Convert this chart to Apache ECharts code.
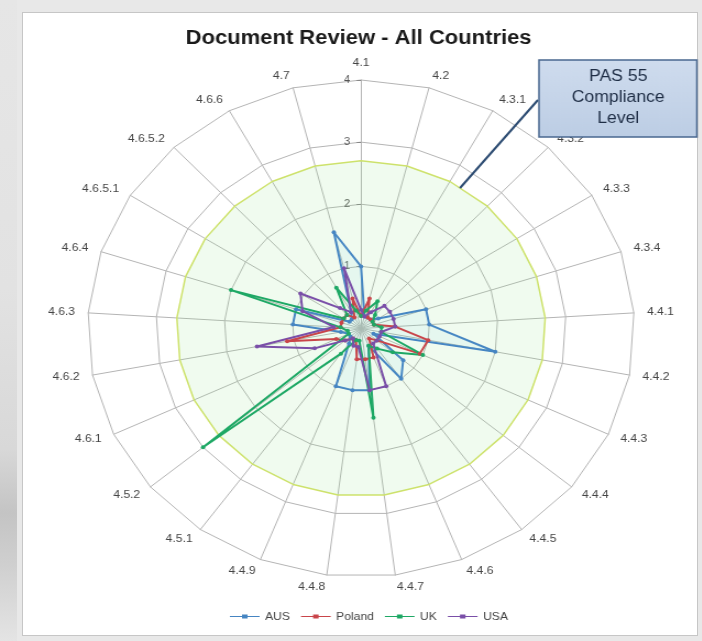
<!DOCTYPE html>
<html><head><meta charset="utf-8">
<script src="https://cdn.jsdelivr.net/npm/echarts@6/dist/echarts.min.js"></script>
<style>
html,body{margin:0;padding:0;width:702px;height:641px;overflow:hidden;background:#e8e8e8;}
#strip{position:absolute;left:0;top:0;width:17px;height:641px;background:linear-gradient(to bottom,#e6e6e6 0%,#e2e2e2 45%,#d8d8d8 70%,#c4c4c4 80%,#cfcfcf 88%,#e4e4e4 100%);}
#panel{position:absolute;left:22px;top:12px;width:674px;height:622px;background:#fff;border:1px solid #c6c6c6;}
#chart{position:absolute;left:0;top:0;width:638px;height:641px;transform:scaleX(1.1);transform-origin:0 0;}
</style></head><body>
<div id="strip"></div><div id="panel"></div><div id="chart"></div>
<script>
const categories = ['4.1','4.2','4.3.1','4.3.2','4.3.3','4.3.4','4.4.1','4.4.2','4.4.3','4.4.4','4.4.5','4.4.6','4.4.7','4.4.8','4.4.9','4.5.1','4.5.2','4.6.1','4.6.2','4.6.3','4.6.4','4.6.5.1','4.6.5.2','4.6.6','4.7'];
const AUS    = [1.0,0.2,0.2,0.2,0.3,1.0,1.0,2.0,0.2,0.8,1.0,0.3,1.0,1.0,1.0,0.3,0.2,0.2,0.3,1.0,1.0,0.2,0.2,0.3,1.6];
const Poland = [0.2,0.5,0.2,0.2,0.2,0.2,0.5,1.0,0.95,0.3,0.2,0.5,0.5,0.5,0.2,0.2,0.3,0.4,1.1,0.3,0.3,0.3,0.3,0.2,0.5];
const UK     = [0.2,0.3,0.5,0.3,0.2,0.2,0.3,0.3,1.0,0.6,0.4,0.3,1.45,0.2,0.2,0.5,3.0,0.2,0.2,0.3,2.0,0.3,0.3,0.75,0.3];
const USA    = [0.3,0.2,0.3,0.5,0.5,0.5,0.5,0.3,0.3,0.3,0.3,1.0,1.0,0.3,0.3,0.2,0.3,0.75,1.55,0.4,0.9,1.05,0.45,0.3,1.0];
const compliance = [2.7,2.7,2.7,2.7,2.7,2.7,2.7,2.7,2.7,2.7,2.7,2.7,2.7,2.7,2.7,2.7,2.7,2.7,2.7,2.7,2.7,2.7,2.7,2.7,2.7];
const seriesNames = ['AUS','Poland','UK','USA'];
const seriesColors = ['#4685c2','#c9454a','#1ea865','#7a4fa8'];
const axisMax = 4;
const calloutLines = ['PAS 55','Compliance','Level'];

// ECharts radar runs counter-clockwise; Excel runs clockwise -> reorder indices
const order = [0];
for (let i = categories.length - 1; i >= 1; i--) order.push(i);
const reorder = arr => order.map(i => arr[i]);

const chart = echarts.init(document.getElementById('chart'), null, {renderer: 'canvas'});
const FONT = 'Liberation Sans';
const raw = [AUS, Poland, UK, USA];

chart.setOption({
  animation: false,
  title: {
    text: 'Document Review - All Countries',
    left: 321, top: 23, textAlign: 'center',
    textStyle: {fontFamily: FONT, fontWeight: 'bold', fontSize: 20, color: '#1a1a1a'}
  },
  legend: {
    data: seriesNames,
    left: 204, top: 606,
    itemWidth: 27, itemHeight: 6, itemGap: 10,
    icon: 'path://M0,4 L11,4 L11,2.5 L16,2.5 L16,4 L27,4 L27,5.2 L16,5.2 L16,6.7 L11,6.7 L11,5.2 L0,5.2 Z',
    textStyle: {fontFamily: FONT, fontSize: 11, color: '#444'}
  },
  radar: {
    center: [328.2, 328.5],
    radius: 248.5,
    startAngle: 90,
    shape: 'polygon',
    splitNumber: 4,
    nameGap: 12,
    indicator: order.map((k, j) => {
      const o = {name: categories[k], min: 0, max: axisMax};
      if (j === 0) {
        o.axisLabel = {show: true};
        o.axisTick = {show: true};
      }
      return o;
    }),
    axisName: {color: '#444', fontSize: 11, fontFamily: FONT},
    splitLine: {lineStyle: {color: '#b4b4b4', width: 1}},
    splitArea: {show: false},
    axisLine: {lineStyle: {color: '#b4b4b4', width: 1}},
    axisTick: {show: false, length: 4, lineStyle: {color: '#888'}},
    axisLabel: {show: false, showMinLabel: false, fontSize: 10, fontFamily: FONT, color: '#555', margin: 10}
  },
  series: [
    {
      type: 'radar', silent: true, z: 1,
      symbol: 'none',
      data: [{
        name: 'Compliance', value: reorder(compliance),
        lineStyle: {color: '#d2e26a', width: 1.5},
        areaStyle: {color: 'rgba(150,230,140,0.2)'}
      }]
    },
    {
      type: 'radar', z: 2,
      symbol: 'circle', symbolSize: 4,
      data: raw.map((arr, i) => ({
        name: seriesNames[i],
        value: reorder(arr),
        lineStyle: {color: seriesColors[i], width: 2},
        itemStyle: {color: seriesColors[i]},
        areaStyle: i === 0 ? {color: 'rgba(110,200,235,0.12)'} : undefined
      }))
    }
  ],
  graphic: [
    {type: 'line', shape: {x1: 489, y1: 100, x2: 418.2, y2: 188}, style: {stroke: '#2d4c72', lineWidth: 2}, z: 10},
    {type: 'rect', shape: {x: 490, y: 60, width: 143.5, height: 77},
     style: {fill: new echarts.graphic.LinearGradient(0, 0, 0, 1, [{offset: 0, color: '#cfdcee'}, {offset: 1, color: '#bccde4'}]), stroke: '#4a6890', lineWidth: 1.5}, z: 10},
    {type: 'text', x: 562, y: 98, z: 11,
     style: {text: calloutLines.join('\n'), fontFamily: FONT, fontSize: 16, lineHeight: 21, fill: '#1e2d45', align: 'center', verticalAlign: 'middle'}}
  ]
});
</script>
</body></html>
